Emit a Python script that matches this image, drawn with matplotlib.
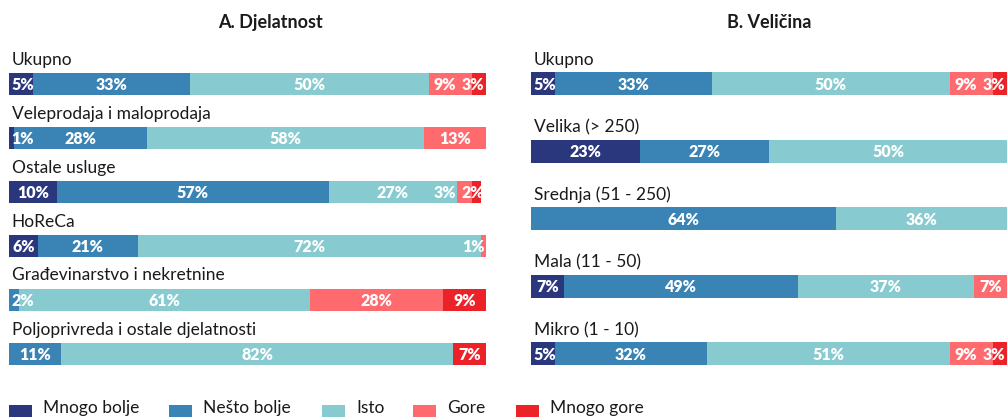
import matplotlib
matplotlib.use("Agg")
import matplotlib.pyplot as plt
from matplotlib.patches import Rectangle
import numpy as np

plt.rcParams['font.family'] = ['Lato', 'DejaVu Sans']

W, H = 1008, 417

kategorije = ["Mnogo bolje", "Nešto bolje", "Isto", "Gore", "Mnogo gore"]
boje = ["#2a377d", "#3a84b5", "#87cbd0", "#fe6a6e", "#ec2229"]

# A. Djelatnost
djelatnost = ["Ukupno", "Veleprodaja i maloprodaja", "Ostale usluge", "HoReCa",
              "Građevinarstvo i nekretnine", "Poljoprivreda i ostale djelatnosti"]
djelatnost_vr = [[5, 33, 50, 9, 3],
                 [1, 28, 58, 13, 0],
                 [10, 57, 27, 3, 2],
                 [6, 21, 72, 1, 0],
                 [0, 2, 61, 28, 9],
                 [0, 11, 82, 0, 7]]

# B. Veličina
velicina = ["Ukupno", "Velika (> 250)", "Srednja (51 - 250)", "Mala (11 - 50)", "Mikro (1 - 10)"]
velicina_vr = [[5, 33, 50, 9, 3],
               [23, 27, 50, 0, 0],
               [0, 64, 36, 0, 0],
               [7, 49, 37, 7, 0],
               [5, 32, 51, 9, 3]]


# pozicije oznaka: centar segmenta, ali unutar trake i bez preklapanja
def pozicije(vals):
    vals = np.array(vals, dtype=float)
    left = np.concatenate([[0], np.cumsum(vals)[:-1]])
    idx = [k for k in range(len(vals)) if vals[k] > 0]
    c = {k: left[k] + vals[k] / 2 for k in idx}
    w = {k: 2.2 * len("%d%%" % vals[k]) for k in idx}
    lim = 0.6
    for k in idx:
        c[k] = max(c[k], lim + w[k] / 2)
        lim = c[k] + w[k] / 2 + 0.3
    lim = 99.5
    for k in reversed(idx):
        c[k] = min(c[k], lim - w[k] / 2)
        lim = c[k] - w[k] / 2 - 1.5
    return left, c


def panel(x0, x1, naziv, nazivx, redovi, vrijednosti, y0, korak, visina, odmak):
    ax = fig.add_axes([x0 / W, 0, (x1 - x0) / W, 1])
    ax.set_xlim(0, 100)
    ax.set_ylim(H, 0)
    ax.axis("off")
    ys = y0 + korak * np.arange(len(redovi))
    for i, (red, vals) in enumerate(zip(redovi, vrijednosti)):
        left, c = pozicije(vals)
        ax.barh(ys[i], vals, left=left, height=visina, color=boje, linewidth=0)
        for k, x in c.items():
            ax.text(x, ys[i] + 1, "%d%%" % vals[k], ha="center", va="center",
                    color="white", fontsize=11.5, fontweight="heavy")
        ax.text(0.6, ys[i] - visina / 2 - odmak, red, ha="left", va="baseline",
                fontsize=12.5, color="#1a1a1a")
    fig.text(nazivx / W, 1 - 28 / H, naziv, ha="center", va="baseline",
             fontsize=13, fontweight="bold", color="#1a1a1a")


fig = plt.figure(figsize=(W / 100, H / 100), dpi=100)

panel(9, 486, "A. Djelatnost", 270, djelatnost, djelatnost_vr, 83.5, 54, 22, 8)
panel(531, 1007, "B. Veličina", 769, velicina, velicina_vr, 83.5, 67.5, 23, 7)

# legenda (kvadrati djelomično odrezani donjim rubom, kao u izvorniku)
leg_x = [9, 169, 322, 413, 516]
for x, b, k in zip(leg_x, boje, kategorije):
    fig.patches.append(Rectangle((x / W, 1 - 428 / H), 23 / W, 23 / H, transform=fig.transFigure,
                                 facecolor=b, edgecolor="none"))
    fig.text((x + 34) / W, 1 - 413 / H, k, ha="left", va="baseline",
             fontsize=12.5, color="#1a1a1a")

fig.savefig("out.png", dpi=100)
